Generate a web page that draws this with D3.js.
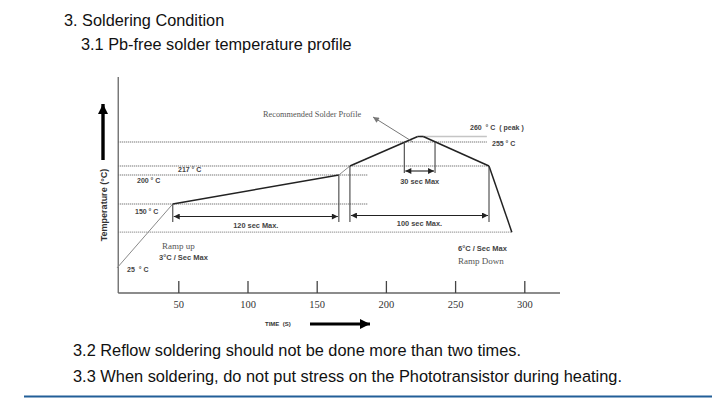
<!DOCTYPE html>
<html><head><meta charset="utf-8">
<script src="https://cdn.jsdelivr.net/npm/d3@7"></script>
<style>
body{margin:0;background:#fff;}
svg{display:block;}
.sans{font-family:"Liberation Sans",Arial,sans-serif;}
.serif{font-family:"Liberation Serif","Times New Roman",serif;}
</style></head>
<body>
<script>
// ---- data ----
const profileTime = [5.7, 46, 166, 174, 223, 227, 274.5, 291];
const profileTemp = [25, 150, 200, 217, 260, 260, 217, 95];
const timeTicks = [50, 100, 150, 200, 250, 300];
const levelTemps = [255, 260, 217, 200, 150, 95];
const levelFrom  = [6.6, 225, 6.6, 6.6, 6.6, 6.6];
const levelTo    = [273, 273, 274.5, 187, 187, 291];
const levelLabels = ["255 ° C", "260  ° C  ( peak )", "217 ° C", "200 ° C", "150 ° C", "25  ° C"];
const spanLabels = ["120 sec Max.", "100 sec Max.", "30 sec Max"];
const spanFrom = [46, 174, 213.3];
const spanTo = [166, 274.5, 235.5];

const W = 712, H = 400;
const svg = d3.select("body").append("svg").attr("width", W).attr("height", H);

const defs = svg.append("defs");
function marker(id, color, w, h) {
  defs.append("marker").attr("id", id).attr("viewBox", "0 0 10 10")
    .attr("refX", 10).attr("refY", 5).attr("markerWidth", w).attr("markerHeight", h)
    .attr("orient", "auto-start-reverse").attr("markerUnits", "userSpaceOnUse")
    .append("path").attr("d", "M0,0 L10,5 L0,10 Z").attr("fill", color);
}
marker("ah", "#222", 7, 6);
marker("ahBig", "#000", 11, 10);
marker("ahGray", "#777", 7, 6);

// ---- header / footer text ----
svg.append("text").attr("class", "sans").attr("x", 64).attr("y", 26)
  .attr("font-size", 16.3).attr("fill", "#111").text("3. Soldering Condition");
svg.append("text").attr("class", "sans").attr("x", 81).attr("y", 50)
  .attr("font-size", 16.3).attr("fill", "#111").text("3.1 Pb-free solder temperature profile");
svg.append("text").attr("class", "sans").attr("x", 73).attr("y", 356)
  .attr("font-size", 16.3).attr("fill", "#111").attr("textLength", 448).attr("lengthAdjust", "spacingAndGlyphs")
  .text("3.2 Reflow soldering should not be done more than two times.");
svg.append("text").attr("class", "sans").attr("x", 73).attr("y", 382)
  .attr("font-size", 16.3).attr("fill", "#111").attr("textLength", 549).attr("lengthAdjust", "spacingAndGlyphs")
  .text("3.3 When soldering, do not put stress on the Phototransistor during heating.");
svg.append("line").attr("x1", 24).attr("x2", 712).attr("y1", 396.5).attr("y2", 396.5)
  .attr("stroke", "#225f98").attr("stroke-width", 2);

// ---- scales ----
const x = d3.scaleLinear().domain([0, 300]).range([109.1, 524.3]);
const y = d3.scaleLinear().domain([25, 150, 200, 217, 255, 260]).range([268, 204, 175, 166, 142, 136.5]);

const axisLeftX = x(6.6), axisY = 293;

// dotted level lines
const g = svg.append("g");
levelTemps.forEach((t, i) => {
  g.append("line").attr("x1", x(levelFrom[i])).attr("x2", x(levelTo[i]))
    .attr("y1", y(t)).attr("y2", y(t))
    .attr("stroke", "#8a8a8a").attr("stroke-width", 1.4).attr("stroke-dasharray", "1,1");
});

// axes
svg.append("line").attr("x1", axisLeftX).attr("x2", axisLeftX).attr("y1", 77).attr("y2", axisY)
  .attr("stroke", "#666").attr("stroke-width", 1.3);
svg.append("line").attr("x1", axisLeftX).attr("x2", 560).attr("y1", axisY).attr("y2", axisY)
  .attr("stroke", "#666").attr("stroke-width", 1.3);
const xAxis = svg.append("g").attr("transform", `translate(0,${axisY})`)
  .call(d3.axisBottom(x).tickValues(timeTicks).tickSizeInner(-12).tickSizeOuter(0).tickPadding(8));
xAxis.select(".domain").remove();
xAxis.selectAll(".tick line").attr("stroke", "#444").attr("stroke-width", 1.3);
xAxis.selectAll(".tick text").attr("class", "serif").attr("font-size", 10.5).attr("fill", "#333");

// profile
const pts = profileTime.map((t, i) => [x(t), y(profileTemp[i])]);
for (let i = 0; i < pts.length - 1; i++) {
  const light = (i === 0 || i === 2);
  svg.append("line").attr("x1", pts[i][0]).attr("y1", pts[i][1]).attr("x2", pts[i+1][0]).attr("y2", pts[i+1][1])
    .attr("stroke", light ? "#8a8a8a" : "#222").attr("stroke-width", light ? 1 : 1.5);
}

// vertical markers
const vTop = [150, 200, 217, 217, 255, 255];
const vTime = [46, 166, 174, 274.5, 213.3, 235.5];
const vBot = [222, 222, 222, 222, 173, 173];
vTime.forEach((t, i) => {
  svg.append("line").attr("x1", x(t)).attr("x2", x(t)).attr("y1", y(vTop[i])).attr("y2", vBot[i])
    .attr("stroke", "#444").attr("stroke-width", 1.1);
});

// span arrows
const spanY = [216.5, 215.5, 171];
const spanLabelY = [228, 226, 183.5];
spanFrom.forEach((s, i) => {
  svg.append("line").attr("x1", x(s) + 1).attr("x2", x(spanTo[i]) - 1).attr("y1", spanY[i]).attr("y2", spanY[i])
    .attr("stroke", "#222").attr("stroke-width", 1.1)
    .attr("marker-start", "url(#ah)").attr("marker-end", "url(#ah)");
  svg.append("text").attr("class", "sans").attr("font-weight", "bold").attr("font-size", 7.4)
    .attr("fill", "#444").attr("text-anchor", "middle")
    .attr("x", (x(s) + x(spanTo[i])) / 2).attr("y", spanLabelY[i]).text(spanLabels[i]);
});

// temperature labels
const lblX = [492, 470, 178, 137, 135, 127];
const lblY = [146, 130, 171.5, 182.5, 214, 271.5];
levelLabels.forEach((l, i) => {
  svg.append("text").attr("class", "sans").attr("font-weight", "bold").attr("font-size", 7)
    .attr("fill", "#444").attr("x", lblX[i]).attr("y", lblY[i]).style("white-space", "pre").text(l);
});

// ramp labels
svg.append("text").attr("class", "serif").attr("font-size", 9).attr("fill", "#555").attr("x", 162).attr("y", 248.5).text("Ramp up");
svg.append("text").attr("class", "sans").attr("font-weight", "bold").attr("font-size", 7.5).attr("fill", "#444").attr("x", 159).attr("y", 259.5).text("3°C / Sec Max");
svg.append("text").attr("class", "sans").attr("font-weight", "bold").attr("font-size", 7.5).attr("fill", "#444").attr("x", 458).attr("y", 250.5).text("6°C / Sec Max");
svg.append("text").attr("class", "serif").attr("font-size", 9).attr("fill", "#555").attr("x", 458).attr("y", 264).text("Ramp Down");

// recommended profile callout
svg.append("text").attr("class", "serif").attr("font-size", 8.3).attr("fill", "#555").attr("x", 263).attr("y", 117).text("Recommended Solder Profile");
svg.append("line").attr("x1", 413).attr("y1", 142).attr("x2", 373).attr("y2", 117)
  .attr("stroke", "#777").attr("stroke-width", 1).attr("marker-end", "url(#ahGray)");

// axis titles
svg.append("text").attr("class", "sans").attr("font-weight", "bold").attr("font-size", 6).attr("fill", "#333")
  .attr("x", 265).attr("y", 326).style("white-space", "pre").text("TIME  (S)");
svg.append("line").attr("x1", 310).attr("x2", 370).attr("y1", 324).attr("y2", 324)
  .attr("stroke", "#000").attr("stroke-width", 3.2).attr("marker-end", "url(#ahBig)");

svg.append("line").attr("x1", 103).attr("x2", 103).attr("y1", 160).attr("y2", 104)
  .attr("stroke", "#000").attr("stroke-width", 3.4).attr("marker-end", "url(#ahBig)");
svg.append("text").attr("class", "sans").attr("font-weight", "bold").attr("font-size", 9).attr("fill", "#333")
  .attr("text-anchor", "middle").attr("transform", "translate(106.5,205) rotate(-90)").text("Temperature (°C)");
</script>
</body></html>
